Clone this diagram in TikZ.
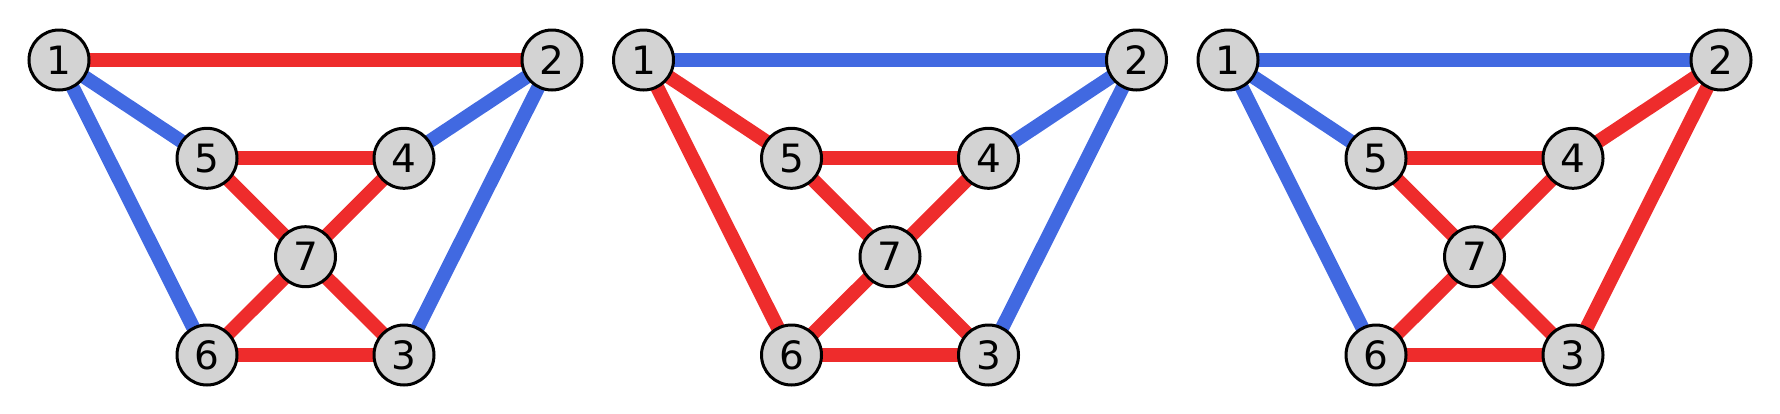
\documentclass[tikz,border=0pt]{standalone}
\usepackage{fontspec}
\setsansfont{DejaVu Sans}
\usetikzlibrary{backgrounds}
\definecolor{edgered}{RGB}{238,44,44}
\definecolor{edgeblue}{RGB}{65,105,225}
\definecolor{nodegray}{RGB}{211,211,211}

\begin{document}
\begin{tikzpicture}[
  x=1pt, y=-1pt,
  vertex/.style={draw, circle, fill=nodegray, line width=3pt, minimum size=60pt, inner sep=0pt, font=\sffamily\fontsize{39}{39}\selectfont},
  edge/.style={line width=14pt}
]
\useasboundingbox (0,0) rectangle (1780,413);
% one panel per colouring: top edge, left edges, right edges
\foreach \p/\ctop/\cleft/\cright in {0/edgered/edgeblue/edgeblue, 1/edgeblue/edgered/edgeblue, 2/edgeblue/edgeblue/edgered} {
  \begin{scope}[shift={(59+584.5*\p,60)}]
    \node[vertex] (v\p-1) at (0,0) {1};
    \node[vertex] (v\p-2) at (493,0) {2};
    \node[vertex] (v\p-5) at (148,98.3) {5};
    \node[vertex] (v\p-4) at (345,98.3) {4};
    \node[vertex] (v\p-7) at (246.5,196.7) {7};
    \node[vertex] (v\p-6) at (148,295) {6};
    \node[vertex] (v\p-3) at (345,295) {3};
    \begin{pgfonlayer}{background}
      \draw[edge, \ctop] (v\p-1.center) -- (v\p-2.center);
      \draw[edge, \cleft] (v\p-1.center) -- (v\p-5.center);
      \draw[edge, \cleft] (v\p-1.center) -- (v\p-6.center);
      \draw[edge, \cright] (v\p-2.center) -- (v\p-4.center);
      \draw[edge, \cright] (v\p-2.center) -- (v\p-3.center);
      \draw[edge, edgered] (v\p-5.center) -- (v\p-4.center);
      \draw[edge, edgered] (v\p-5.center) -- (v\p-7.center);
      \draw[edge, edgered] (v\p-4.center) -- (v\p-7.center);
      \draw[edge, edgered] (v\p-7.center) -- (v\p-6.center);
      \draw[edge, edgered] (v\p-7.center) -- (v\p-3.center);
      \draw[edge, edgered] (v\p-6.center) -- (v\p-3.center);
    \end{pgfonlayer}
  \end{scope}
}
\end{tikzpicture}
\end{document}
